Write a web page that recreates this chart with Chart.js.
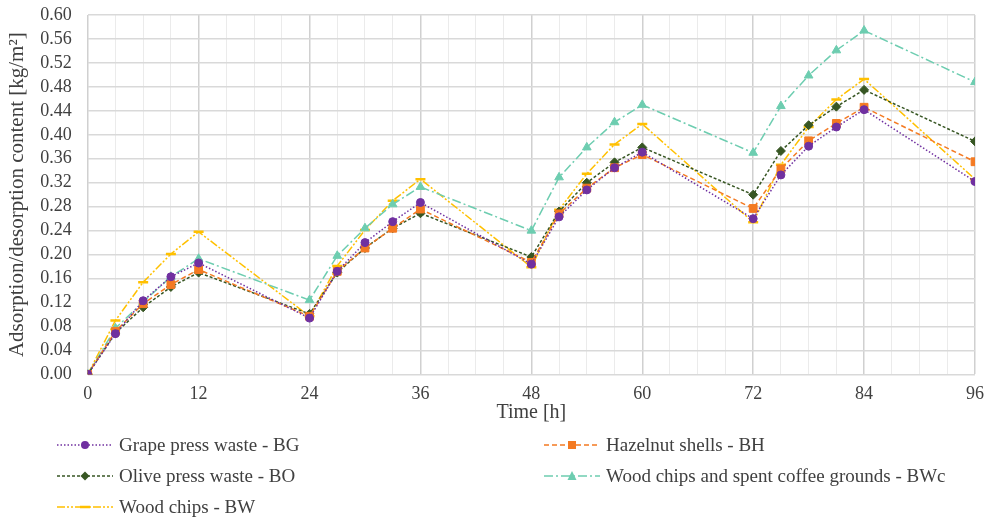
<!DOCTYPE html>
<html>
<head>
<meta charset="utf-8">
<script src="https://cdn.jsdelivr.net/npm/chart.js@4.4.1/dist/chart.umd.min.js"></script>
<style>
  body { margin: 0; background: #fff; }
  #wrap { position: relative; width: 985px; height: 517px; }
  .item { position: absolute; display: flex; align-items: center; height: 24px;
          font: 19px "Liberation Serif", "Times New Roman", serif; color: #404040; white-space: nowrap; }
  .item svg { margin-right: 6px; }
</style>
</head>
<body>
<div id="wrap">
  <canvas id="myChart" width="985" height="517"></canvas>
  <div id="legend"></div>
</div>
<script>
// time points [h]
const hours = [0, 3, 6, 9, 12, 24, 27, 30, 33, 36, 48, 51, 54, 57, 60, 72, 75, 78, 81, 84, 96]

// adsorption/desorption content [kg/m2]
const grapeBG    = [0, 0.068, 0.123, 0.163, 0.186, 0.094, 0.172, 0.220, 0.255, 0.287, 0.184, 0.263, 0.308, 0.345, 0.371, 0.260, 0.333, 0.381, 0.413, 0.442, 0.322]
const hazelnutBH = [0, 0.072, 0.118, 0.150, 0.175, 0.097, 0.172, 0.211, 0.244, 0.276, 0.187, 0.268, 0.311, 0.345, 0.367, 0.277, 0.343, 0.390, 0.419, 0.446, 0.355]
const oliveBO    = [0, 0.069, 0.112, 0.146, 0.170, 0.101, 0.170, 0.211, 0.244, 0.269, 0.196, 0.272, 0.320, 0.354, 0.379, 0.300, 0.373, 0.416, 0.447, 0.475, 0.389]
const coffeeBWc  = [0, 0.077, 0.121, 0.163, 0.193, 0.124, 0.198, 0.244, 0.284, 0.313, 0.240, 0.329, 0.379, 0.421, 0.450, 0.370, 0.448, 0.499, 0.541, 0.574, 0.488]
const woodBW     = [0, 0.090, 0.154, 0.201, 0.238, 0.097, 0.181, 0.241, 0.290, 0.326, 0.179, 0.275, 0.335, 0.384, 0.418, 0.254, 0.350, 0.413, 0.459, 0.493, 0.326]

const font = '"Liberation Serif", "Times New Roman", serif'

function pts(values){
    return hours.map((h, i) => ({ x: h, y: values[i] }))
}

function series(label, values, color, dash, style, radius){
    return {
        label: label,
        data: pts(values),
        borderColor: color,
        backgroundColor: color,
        borderWidth: 1.5,
        borderDash: dash,
        pointStyle: style,
        pointRadius: radius,
        pointBorderWidth: style === 'line' ? 2.5 : 1,
        pointBorderColor: color,
        pointBackgroundColor: color,
        tension: 0
    }
}

let data = {
    datasets: [
        series('Grape press waste - BG', grapeBG, '#7030A0', [1.5, 2], 'circle', 4),
        series('Hazelnut shells - BH', hazelnutBH, '#F47A22', [5, 3], 'rect', 5.5),
        series('Olive press waste - BO', oliveBO, '#375623', [3, 2], 'rectRot', 4.5),
        series('Wood chips and spent coffee grounds - BWc', coffeeBWc, '#6DCDB0', [9, 3, 2, 3], 'triangle', 5),
        series('Wood chips - BW', woodBW, '#FFC000', [8, 2, 2, 2, 2, 2], 'line', 5)
    ]
}

// labels may hang over the plot edges like in the original
function noOverhang(scale){
    scale.paddingTop = 0
    scale.paddingBottom = 0
    scale.paddingLeft = 0
    scale.paddingRight = 0
}

let config = {
    type: 'line',
    data: data,
    options: {
        responsive: false,
        animation: false,
        layout: { padding: { left: 0, right: 10, top: 15, bottom: 92 } },
        scales: {
            x: {
                type: 'linear',
                min: 0,
                max: 96,
                afterFit: noOverhang,
                ticks: {
                    stepSize: 3,
                    autoSkip: false,
                    maxRotation: 0,
                    padding: 9,
                    color: '#404040',
                    font: { family: font, size: 18 },
                    callback: (v) => v % 12 === 0 ? v : ''
                },
                grid: {
                    drawTicks: false,
                    color: (ctx) => ctx.tick && ctx.tick.value % 12 === 0 ? '#d0d0d0' : '#ebebeb',
                    lineWidth: (ctx) => ctx.tick && ctx.tick.value % 12 === 0 ? 1.5 : 1
                },
                border: { display: false },
                title: {
                    display: true,
                    text: 'Time [h]',
                    color: '#404040',
                    padding: { top: -13, bottom: 0 },
                    font: { family: font, size: 20 }
                }
            },
            y: {
                min: 0,
                max: 0.6,
                afterFit: noOverhang,
                ticks: {
                    stepSize: 0.04,
                    autoSkip: false,
                    padding: 16,
                    color: '#404040',
                    font: { family: font, size: 18 },
                    callback: (v) => v.toFixed(2)
                },
                grid: {
                    drawTicks: false,
                    color: '#d9d9d9',
                    lineWidth: 1.5
                },
                border: { display: false },
                title: {
                    display: true,
                    text: 'Adsorption/desorption content [kg/m²]',
                    color: '#404040',
                    padding: { top: 5, bottom: -6 },
                    font: { family: font, size: 21 }
                }
            }
        },
        plugins: {
            legend: { display: false },
            tooltip: { enabled: false }
        }
    }
}

let mychart = new Chart(document.getElementById('myChart'), config)

// html legend, two columns like the original
const legendPos = [[57, 445], [544, 445], [57, 476], [544, 476], [57, 507]]

function markerSvg(ds){
    let c = ds.borderColor
    let m = ''
    if (ds.pointStyle === 'circle') m = `<circle cx="28" cy="8" r="4" fill="${c}"/>`
    if (ds.pointStyle === 'rect') m = `<rect x="24" y="4" width="8" height="8" fill="${c}"/>`
    if (ds.pointStyle === 'rectRot') m = `<polygon points="28,3.5 32.5,8 28,12.5 23.5,8" fill="${c}"/>`
    if (ds.pointStyle === 'triangle') m = `<polygon points="28,3 32.5,12 23.5,12" fill="${c}"/>`
    if (ds.pointStyle === 'line') m = `<line x1="23" y1="8" x2="33" y2="8" stroke="${c}" stroke-width="2.5"/>`
    return `<svg width="56" height="16"><line x1="0" y1="8" x2="56" y2="8" stroke="${c}" stroke-width="1.5" stroke-dasharray="${ds.borderDash.join(' ')}"/>${m}</svg>`
}

let legend = document.getElementById('legend')
data.datasets.forEach((ds, idx) => {
    let el = document.createElement('div')
    el.className = 'item'
    el.style.left = legendPos[idx][0] + 'px'
    el.style.top = (legendPos[idx][1] - 12) + 'px'
    el.innerHTML = markerSvg(ds) + '<span>' + ds.label + '</span>'
    legend.appendChild(el)
})
</script>
</body>
</html>
